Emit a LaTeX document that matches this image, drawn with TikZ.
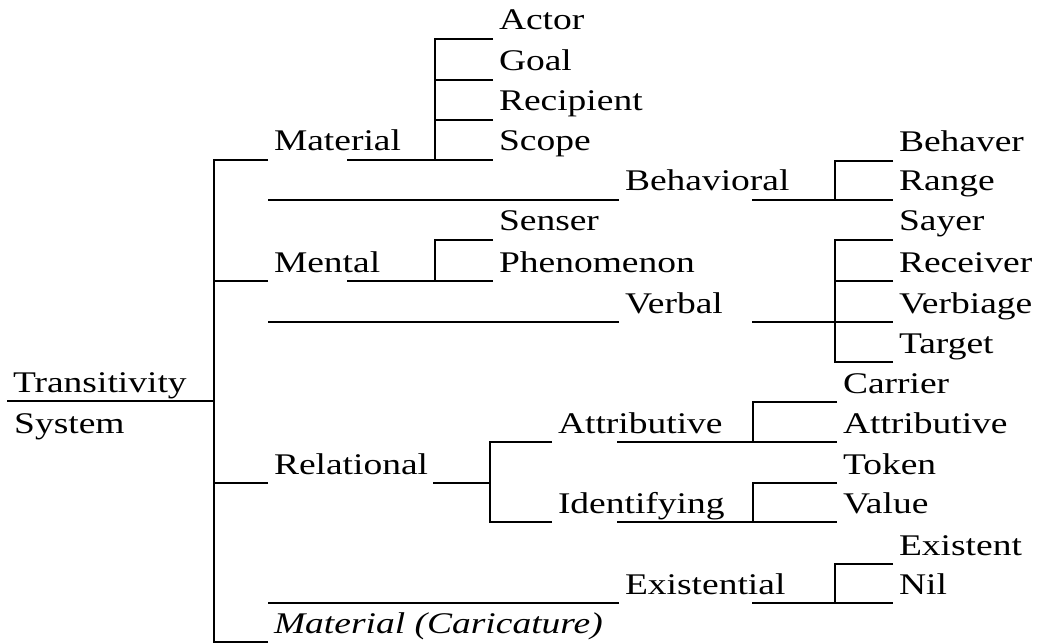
\documentclass[tikz,border=0pt]{standalone}
\usepackage{fontspec}
\setmainfont{Liberation Serif}[FakeStretch=1.25]

\begin{document}
\begin{tikzpicture}[x=1pt, y=-1pt, line width=2.4pt, font=\fontsize{30}{36}\selectfont, lbl/.style={anchor=south west, inner xsep=6pt, inner ysep=0pt, outer sep=0pt, text depth=9pt}]
		\useasboundingbox (0,0) rectangle (1043,644);
		\node[lbl] (root) at (7,401) {Transitivity};
		\node[anchor=base west, inner sep=0pt] (sys) at (13,433) {System};
		\coordinate (trunk) at (214,401);
		\node[lbl] (mat) at (268,160) {Material};
		\node[lbl] (men) at (268,281) {Mental};
		\node[lbl] (rel) at (268,483) {Relational};
		\node[lbl] (car) at (268,642) {\itshape Material (Caricature)};
		\node[lbl] (behav) at (619,200) {Behavioral};
		\node[lbl] (verb) at (619,322) {Verbal};
		\node[lbl] (exist) at (619,603) {Existential};
		\node[lbl] (attr) at (552,442) {Attributive};
		\node[lbl] (ident) at (552,522) {Identifying};
		\node[lbl] (actor) at (493,39) {Actor};
		\node[lbl] (goal) at (493,80) {Goal};
		\node[lbl] (recip) at (493,120) {Recipient};
		\node[lbl] (scope) at (493,160) {Scope};
		\node[lbl] (senser) at (493,240) {Senser};
		\node[lbl] (phen) at (493,281) {Phenomenon};
		\node[lbl] (behaver) at (893,161) {Behaver};
		\node[lbl] (range) at (893,200) {Range};
		\node[lbl] (sayer) at (893,240) {Sayer};
		\node[lbl] (receiver) at (893,281) {Receiver};
		\node[lbl] (verbiage) at (893,322) {Verbiage};
		\node[lbl] (target) at (893,362) {Target};
		\node[lbl] (carrier) at (837,402) {Carrier};
		\node[lbl] (attrib) at (837,442) {Attributive};
		\node[lbl] (token) at (837,483) {Token};
		\node[lbl] (value) at (837,522) {Value};
		\node[lbl] (existent) at (893,564) {Existent};
		\node[lbl] (nil) at (893,603) {Nil};
		\coordinate (matS) at (435,160);
		\coordinate (matO) at (347,160);
		\coordinate (menS) at (435,281);
		\coordinate (menO) at (347,281);
		\coordinate (behS) at (835,200);
		\coordinate (behO) at (752,200);
		\coordinate (verS) at (835,322);
		\coordinate (verO) at (752,322);
		\coordinate (relS) at (490,483);
		\coordinate (relO) at (433,483);
		\coordinate (attS) at (753,442);
		\coordinate (attO) at (617,442);
		\coordinate (idS) at (753,522);
		\coordinate (idO) at (617,522);
		\coordinate (exS) at (835,603);
		\coordinate (exO) at (752,603);
		\draw (root.south west) -- (trunk);
		\draw (mat.south west) -| (trunk);
		\draw (men.south west) -| (trunk);
		\draw (rel.south west) -| (trunk);
		\draw (car.south west) -| (trunk);
		\draw (matO) -- (scope.south west);
		\draw (actor.south west) -| (matS);
		\draw (goal.south west) -| (matS);
		\draw (recip.south west) -| (matS);
		\draw (menO) -- (phen.south west);
		\draw (senser.south west) -| (menS);
		\draw (behav.south west) -- (behav.south west -| mat.south west);
		\draw (behO) -- (range.south west);
		\draw (behaver.south west) -| (behS);
		\draw (verb.south west) -- (verb.south west -| mat.south west);
		\draw (verO) -- (verbiage.south west);
		\draw (sayer.south west) -| (verS);
		\draw (receiver.south west) -| (verS);
		\draw (target.south west) -| (verS);
		\draw (relO) -- (relS);
		\draw (attr.south west) -| (relS);
		\draw (ident.south west) -| (relS);
		\draw (attO) -- (attrib.south west);
		\draw (carrier.south west) -| (attS);
		\draw (idO) -- (value.south west);
		\draw (token.south west) -| (idS);
		\draw (exist.south west) -- (exist.south west -| mat.south west);
		\draw (exO) -- (nil.south west);
		\draw (existent.south west) -| (exS);
	\end{tikzpicture}
\end{document}
